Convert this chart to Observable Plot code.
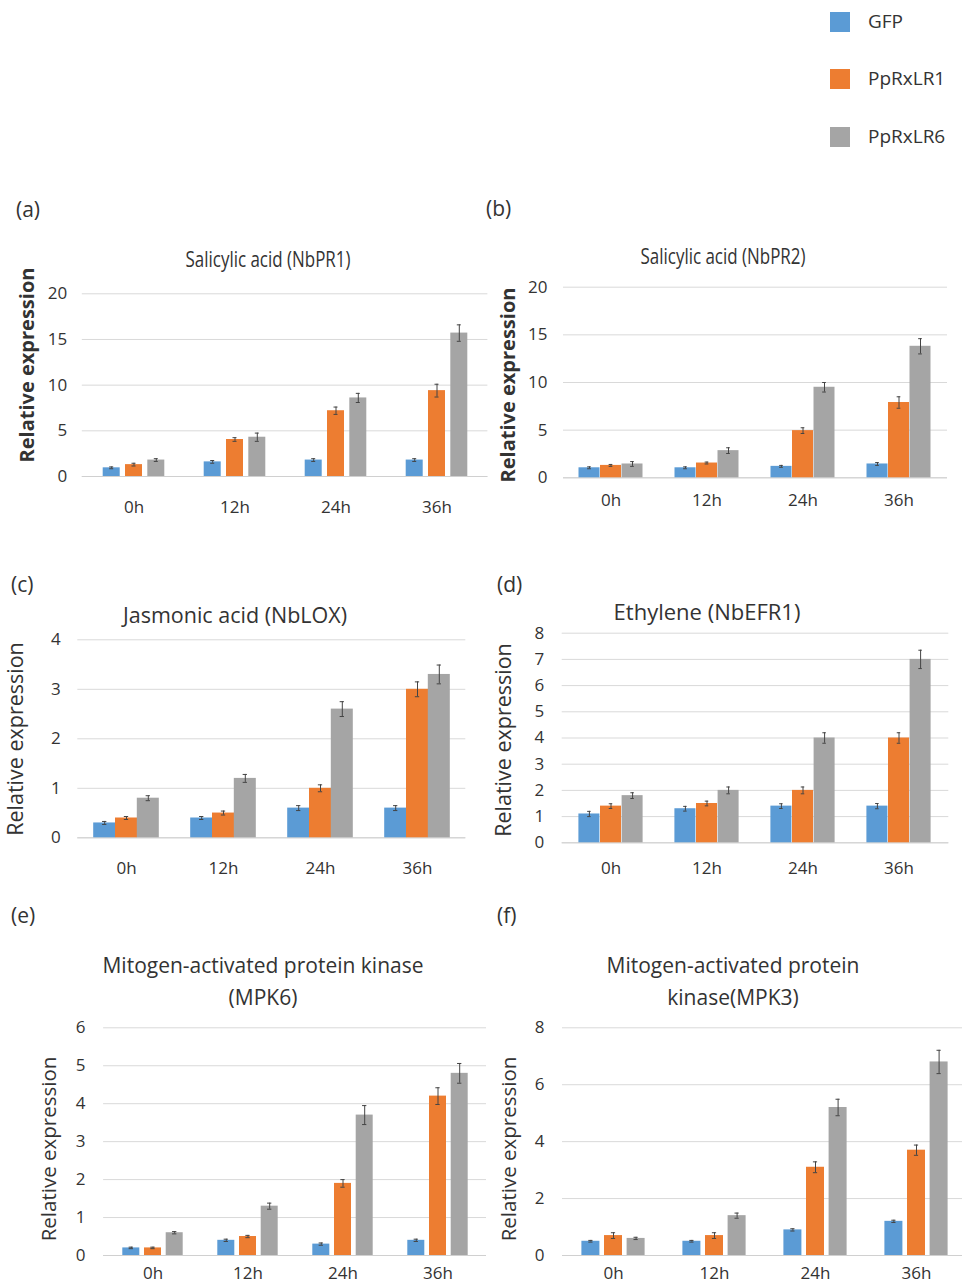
<!DOCTYPE html>
<html><head><meta charset="utf-8">
<script src="https://cdn.jsdelivr.net/npm/d3@7"></script>
<script src="https://cdn.jsdelivr.net/npm/@observablehq/plot@0.6"></script>
<style>
html,body{margin:0;padding:0;background:#fff;overflow:hidden}
#root{position:relative;width:962px;height:1283px;overflow:hidden;font-family:"Open Sans",sans-serif;color:#333}
.abs{position:absolute;white-space:nowrap;line-height:1}
.yl{transform:translate(-50%,-50%) rotate(-90deg)}
.plot{position:absolute}
</style></head><body><div id="root"></div>
<script>
// ---- data ----
const times = ["0h", "12h", "24h", "36h"];
const series = ["GFP", "PpRxLR1", "PpRxLR6"];
const colors = ["#5B9BD5", "#ED7D31", "#A5A5A5"];

// (a) Salicylic acid (NbPR1)
const pr1GFP = [0.95, 1.6, 1.8, 1.8];
const pr1R1  = [1.3, 4.05, 7.2, 9.4];
const pr1R6  = [1.8, 4.3, 8.6, 15.7];
const pr1GFPErr = [0.1, 0.15, 0.15, 0.15];
const pr1R1Err  = [0.15, 0.2, 0.4, 0.7];
const pr1R6Err  = [0.15, 0.45, 0.5, 0.9];

// (b) Salicylic acid (NbPR2)
const pr2GFP = [1.05, 1.05, 1.2, 1.45];
const pr2R1  = [1.3, 1.55, 4.95, 7.9];
const pr2R6  = [1.45, 2.85, 9.5, 13.8];
const pr2GFPErr = [0.1, 0.1, 0.1, 0.15];
const pr2R1Err  = [0.1, 0.1, 0.3, 0.6];
const pr2R6Err  = [0.25, 0.3, 0.5, 0.8];

// (c) Jasmonic acid (NbLOX)
const loxGFP = [0.3, 0.4, 0.6, 0.6];
const loxR1  = [0.4, 0.5, 1.0, 3.0];
const loxR6  = [0.8, 1.2, 2.6, 3.3];
const loxGFPErr = [0.03, 0.03, 0.05, 0.05];
const loxR1Err  = [0.03, 0.04, 0.07, 0.15];
const loxR6Err  = [0.05, 0.08, 0.15, 0.19];

// (d) Ethylene (NbEFR1)
const efrGFP = [1.1, 1.3, 1.4, 1.4];
const efrR1  = [1.4, 1.5, 2.0, 4.0];
const efrR6  = [1.8, 2.0, 4.0, 7.0];
const efrGFPErr = [0.1, 0.09, 0.09, 0.1];
const efrR1Err  = [0.09, 0.09, 0.13, 0.2];
const efrR6Err  = [0.11, 0.13, 0.2, 0.35];

// (e) MPK6
const mpk6GFP = [0.2, 0.4, 0.3, 0.4];
const mpk6R1  = [0.2, 0.5, 1.9, 4.2];
const mpk6R6  = [0.6, 1.3, 3.7, 4.8];
const mpk6GFPErr = [0.02, 0.03, 0.03, 0.03];
const mpk6R1Err  = [0.02, 0.03, 0.1, 0.22];
const mpk6R6Err  = [0.03, 0.08, 0.25, 0.26];

// (f) MPK3
const mpk3GFP = [0.5, 0.5, 0.9, 1.2];
const mpk3R1  = [0.7, 0.7, 3.1, 3.7];
const mpk3R6  = [0.6, 1.4, 5.2, 6.8];
const mpk3GFPErr = [0.03, 0.03, 0.04, 0.04];
const mpk3R1Err  = [0.1, 0.1, 0.19, 0.18];
const mpk3R6Err  = [0.04, 0.09, 0.29, 0.41];

const yLabel = "Relative expression";

// ---- layout ----
const root = document.getElementById("root");
function addText(txt, x, y, css) {
  const d = document.createElement("div");
  d.className = "abs";
  d.style.left = x + "px"; d.style.top = y + "px";
  Object.assign(d.style, css || {});
  d.innerHTML = txt;
  root.appendChild(d);
  return d;
}

// legend
series.forEach((s, i) => {
  const ys = [22, 79, 137][i];
  const sq = document.createElement("div");
  sq.className = "abs";
  Object.assign(sq.style, {left: "830px", top: (ys - 10) + "px", width: "20px", height: "20px", background: colors[i]});
  root.appendChild(sq);
  addText(s, 868, ys, {fontSize: "19px", transform: "translateY(-55%)"});
});

const panels = [
  {lab: "(a)", lx: 16, ly: 211, title: ["Salicylic acid (NbPR1)"], tx: 268, ty: 258, tfs: 22, tsx: 0.77,
   ylx: 27, yly: 365, ylfs: 20, ylw: 700, ylsx: 1, x0: 81.8, x1: 487.4, yZero: 476, yTop: 293.3, ymax: 20,
   ticks: [0, 5, 10, 15, 20], barW: 17, off: 22.3, padY: 15, padX: 24, fs: 17,
   vals: [pr1GFP, pr1R1, pr1R6], errs: [pr1GFPErr, pr1R1Err, pr1R6Err]},
  {lab: "(b)", lx: 486, ly: 210, title: ["Salicylic acid (NbPR2)"], tx: 723, ty: 255, tfs: 22, tsx: 0.77,
   ylx: 508, yly: 385, ylfs: 20, ylw: 700, x0: 563, x1: 947, yZero: 477.3, yTop: 286.7, ymax: 20,
   ticks: [0, 5, 10, 15, 20], barW: 21.3, off: 21.5, padY: 16, padX: 16, fs: 17,
   vals: [pr2GFP, pr2R1, pr2R6], errs: [pr2GFPErr, pr2R1Err, pr2R6Err]},
  {lab: "(c)", lx: 11, ly: 586, title: ["Jasmonic acid (NbLOX)"], tx: 235, ty: 615, tfs: 21.5, tsx: 1,
   ylx: 15, yly: 739, ylfs: 21.5, ylw: 400, x0: 77.3, x1: 465.3, yZero: 837.3, yTop: 639.3, ymax: 4,
   ticks: [0, 1, 2, 3, 4], barW: 21.7, off: 21.8, padY: 17, padX: 24, fs: 17,
   vals: [loxGFP, loxR1, loxR6], errs: [loxGFPErr, loxR1Err, loxR6Err]},
  {lab: "(d)", lx: 497, ly: 586, title: ["Ethylene (NbEFR1)"], tx: 707, ty: 611, tfs: 22, tsx: 1,
   ylx: 503, yly: 740, ylfs: 21.5, ylw: 400, x0: 561.7, x1: 948.3, yZero: 842.3, yTop: 632.7, ymax: 8,
   ticks: [0, 1, 2, 3, 4, 5, 6, 7, 8], barW: 21.5, off: 21.6, padY: 18, padX: 19, fs: 17,
   vals: [efrGFP, efrR1, efrR6], errs: [efrGFPErr, efrR1Err, efrR6Err]},
  {lab: "(e)", lx: 11, ly: 917, title: ["Mitogen-activated protein kinase", "(MPK6)"], tx: 263, ty: 981, tfs: 21, tsx: 1,
   ylx: 48, yly: 1149, ylfs: 20.5, ylw: 400, x0: 103.1, x1: 486, yZero: 1255, yTop: 1027.3, ymax: 6,
   ticks: [0, 1, 2, 3, 4, 5, 6], barW: 16.7, off: 21.7, padY: 18, padX: 11, fs: 17,
   vals: [mpk6GFP, mpk6R1, mpk6R6], errs: [mpk6GFPErr, mpk6R1Err, mpk6R6Err]},
  {lab: "(f)", lx: 497, ly: 917, title: ["Mitogen-activated protein", "kinase(MPK3)"], tx: 733, ty: 981, tfs: 21, tsx: 1,
   ylx: 508, yly: 1149, ylfs: 20.5, ylw: 400, x0: 562, x1: 967.6, yZero: 1255, yTop: 1027.3, ymax: 8,
   ticks: [0, 2, 4, 6, 8], barW: 17.8, off: 22.6, padY: 18, padX: 11, fs: 17,
   vals: [mpk3GFP, mpk3R1, mpk3R6], errs: [mpk3GFPErr, mpk3R1Err, mpk3R6Err]}
];

panels.forEach(cfg => {
  addText(cfg.lab, cfg.lx, cfg.ly, {fontSize: "21px", transform: "translateY(-55%)"});
  addText(cfg.title.join("<br>"), cfg.tx, cfg.ty, {fontSize: cfg.tfs + "px", textAlign: "center", lineHeight: "1.5",
    transform: `translate(-50%,-50%) scaleX(${cfg.tsx})`});
  addText(yLabel, cfg.ylx, cfg.yly, {fontSize: cfg.ylfs + "px", fontWeight: cfg.ylw,
    transform: "translate(-50%,-50%) rotate(-90deg)"});

  const rows = [];
  series.forEach((s, i) => times.forEach((tm, j) => rows.push({time: tm, series: s, value: cfg.vals[i][j], err: cfg.errs[i][j]})));
  const step = (cfg.x1 - cfg.x0) / times.length;
  const p = 1 - cfg.barW / step;
  const svgLeft = Math.round(cfg.x0 - 75);
  const svgTop = Math.round(cfg.yTop - 20);
  const W = Math.ceil(cfg.x1 - svgLeft + 5);
  const H = Math.ceil(cfg.yZero - svgTop + 30);
  const cap = 4;
  const marks = [
    Plot.gridY(cfg.ticks, {stroke: "#d9d9d9", strokeOpacity: 1}),
    Plot.ruleY([0], {stroke: "#d0d0d0"})
  ];
  series.forEach((s, i) => {
    const d = rows.filter(r => r.series === s);
    const dx = (i - 1) * cfg.off;
    marks.push(Plot.barY(d, {x: "time", y: "value", fill: colors[i], dx}));
    marks.push(Plot.ruleX(d, {x: "time", y1: r => r.value - r.err, y2: r => r.value + r.err, stroke: "#444", strokeWidth: 1, dx}));
    const ins = (cfg.barW - cap) / 2;
    marks.push(Plot.tickY(d, {x: "time", y: r => r.value + r.err, stroke: "#444", strokeWidth: 1, dx, insetLeft: ins, insetRight: ins}));
    marks.push(Plot.tickY(d, {x: "time", y: r => r.value - r.err, stroke: "#444", strokeWidth: 1, dx, insetLeft: ins, insetRight: ins}));
  });
  marks.push(Plot.axisY(cfg.ticks, {tickSize: 0, tickPadding: cfg.padY, label: null, fontSize: cfg.fs, tickFormat: d3.format("d")}));
  marks.push(Plot.axisX({tickSize: 0, tickPadding: cfg.padX, label: null, fontSize: cfg.fs}));

  const chart = Plot.plot({
    width: W, height: H,
    marginLeft: cfg.x0 - svgLeft, marginRight: svgLeft + W - cfg.x1,
    marginTop: cfg.yTop - svgTop, marginBottom: svgTop + H - cfg.yZero,
    x: {domain: times, paddingInner: p, paddingOuter: p / 2},
    y: {domain: [0, cfg.ymax]},
    style: {fontFamily: "'Open Sans', sans-serif", fontSize: cfg.fs + "px", color: "#333", background: "transparent", overflow: "visible"},
    marks
  });
  chart.classList.add("plot");
  chart.style.left = svgLeft + "px";
  chart.style.top = svgTop + "px";
  root.appendChild(chart);
});
</script></body></html>
